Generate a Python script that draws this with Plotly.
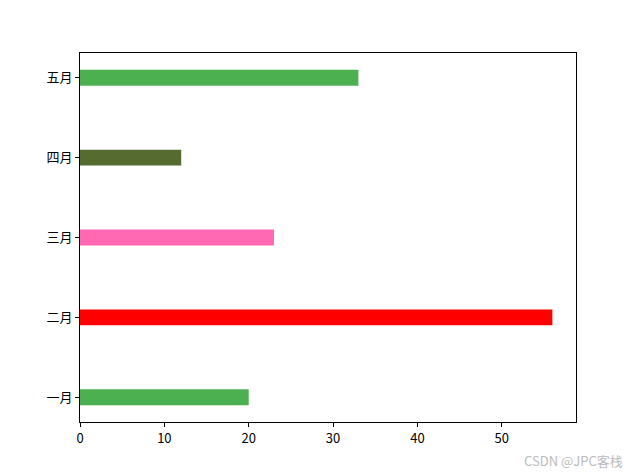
import plotly.graph_objects as go

months = ["一月", "二月", "三月", "四月", "五月"]
values = [20, 56, 23, 12, 33]
colors = ["#4CAF50", "#FF0000", "#FF69B4", "#556B2F", "#4CAF50"]
x_ticks = [0, 10, 20, 30, 40, 50]

fig = go.Figure(go.Bar(
    y=list(range(len(months))), x=values, orientation="h",
    marker=dict(color=colors, line=dict(width=0)), width=0.2,
))

fig.update_layout(
    width=632, height=467,
    margin=dict(l=72, r=64, t=45, b=53),
    paper_bgcolor="white", plot_bgcolor="white",
    font=dict(family="Noto Sans CJK SC, DejaVu Sans", size=13, color="black"),
    showlegend=False,
    xaxis=dict(range=[0, 58.8], tickvals=x_ticks, ticks="outside", ticklen=4,
               tickcolor="black", showline=True, linecolor="black", linewidth=1,
               mirror=True, showgrid=False, zeroline=False),
    yaxis=dict(range=[-0.31, 4.31], tickvals=list(range(len(months))), ticktext=months,
               ticks="outside", ticklen=4, tickcolor="black", showline=True,
               linecolor="black", linewidth=1, mirror=True, showgrid=False, zeroline=False),
    annotations=[dict(text="CSDN @JPC客栈", xref="paper", yref="paper", x=1.099, y=-0.103,
                      xanchor="right", yanchor="middle", showarrow=False,
                      font=dict(size=13, color="#BBBBBB"))],
)

fig.write_html("out.html")
